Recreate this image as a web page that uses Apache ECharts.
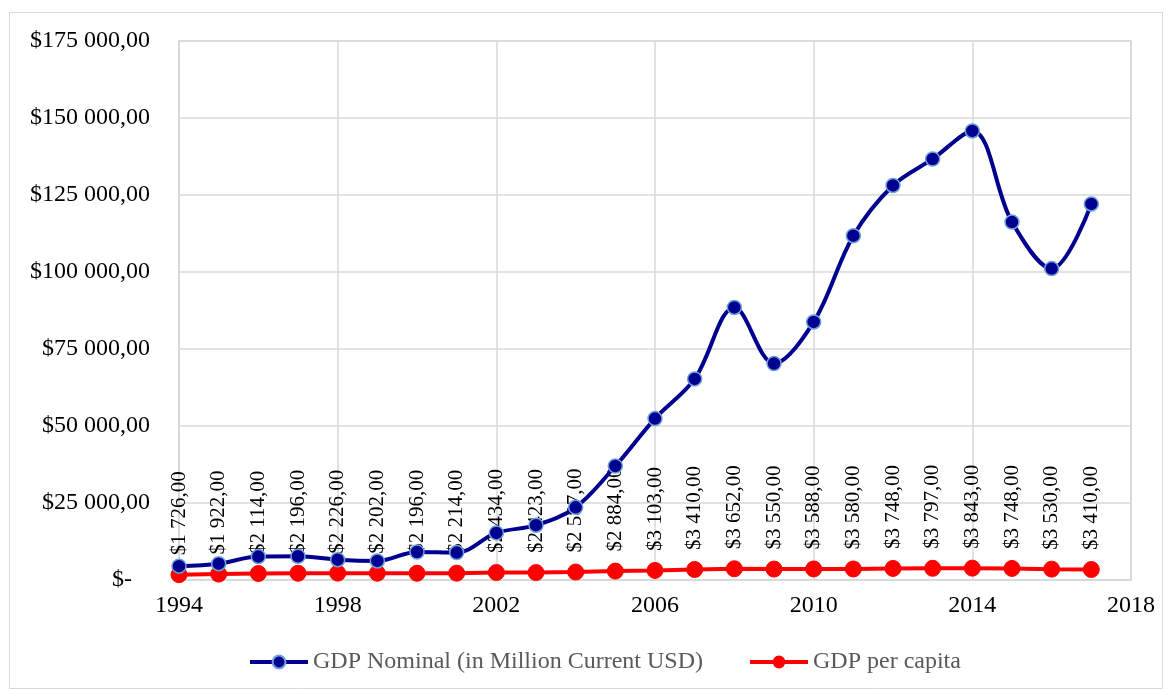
<!DOCTYPE html>
<html>
<head>
<meta charset="utf-8">
<script src="https://cdn.jsdelivr.net/npm/echarts@6/dist/echarts.min.js"></script>
<style>html,body{margin:0;padding:0;background:#fff}#c{width:1172px;height:690px}</style>
</head>
<body>
<div id="c"></div>
<script>
const years = [1994,1995,1996,1997,1998,1999,2000,2001,2002,2003,2004,2005,2006,2007,2008,2009,2010,2011,2012,2013,2014,2015,2016,2017];
const gdpNominal = [4500,5300,7600,7700,6600,6200,9100,8900,15300,17800,23600,37000,52400,65300,88500,70300,83800,111800,128100,136700,145800,116200,101100,122100];
const gdpPerCapita = [1726,1922,2114,2196,2226,2202,2196,2214,2434,2423,2587,2884,3103,3410,3652,3550,3588,3580,3748,3797,3843,3748,3530,3410];
const seriesNames = ['GDP Nominal (in Million Current USD)', 'GDP per capita'];

function money(v){
  const s = Math.round(v).toString().replace(/\B(?=(\d{3})+(?!\d))/g, ' ');
  return '$' + s + ',00';
}
const FONT = '"Liberation Serif", "Times New Roman", serif';
const chart = echarts.init(document.getElementById('c'));
chart.setOption({
  backgroundColor: '#fff',
  animation: false,
  graphic: [{type:'rect', shape:{x:9.5,y:12.5,width:1153,height:676}, style:{fill:'none', stroke:'#d9d9d9', lineWidth:1}, silent:true}],
  grid: {left:179, right:41, top:41, bottom:110, show:true, borderColor:'#d9d9d9', borderWidth:1.5},
  xAxis: {
    type:'value', min:1994, max:2018, interval:4,
    axisLine:{show:true, lineStyle:{color:'#d9d9d9', width:1.5}},
    axisTick:{show:false},
    splitLine:{show:true, lineStyle:{color:'#d9d9d9', width:1.5}},
    axisLabel:{color:'#000', fontFamily:FONT, fontSize:24, margin:14, formatter:v=>String(v)}
  },
  yAxis: {
    type:'value', min:0, max:175000, interval:25000,
    axisLine:{show:true, lineStyle:{color:'#d9d9d9', width:1.5}},
    axisTick:{show:false},
    splitLine:{show:true, lineStyle:{color:'#d9d9d9', width:1.5}},
    axisLabel:{color:'#000', fontFamily:FONT, fontSize:24, margin:29, formatter:v=> v===0 ? '$-   ' : money(v)}
  },
  legend: {
    left:243, top:645, itemGap:45, itemWidth:58, itemHeight:16,
    textStyle:{color:'#595959', fontFamily:FONT, fontSize:24},
    lineStyle:{width:4},
    data: seriesNames
  },
  series: [
    {
      name: seriesNames[1], type:'line', z:2,
      data: years.map((y,i)=>[y, gdpPerCapita[i]]),
      symbol:'circle', symbolSize:16,
      lineStyle:{color:'#ff0000', width:4},
      itemStyle:{color:'#ff0000', borderColor:'#ff0000'},
      label:{show:true, position:'top', rotate:90, align:'left', verticalAlign:'middle', distance:11,
        color:'#000', fontFamily:FONT, fontSize:21, formatter:p=>money(p.value[1])},
      labelLayout:{hideOverlap:false}
    },
    {
      name: seriesNames[0], type:'line', z:3,
      data: years.map((y,i)=>[y, gdpNominal[i]]),
      smooth:0.35,
      symbol:'circle', symbolSize:14,
      lineStyle:{color:'#000090', width:4},
      itemStyle:{color:'#000090', borderColor:'#6f9fd8', borderWidth:1.5}
    }
  ]
});
</script>
</body>
</html>
